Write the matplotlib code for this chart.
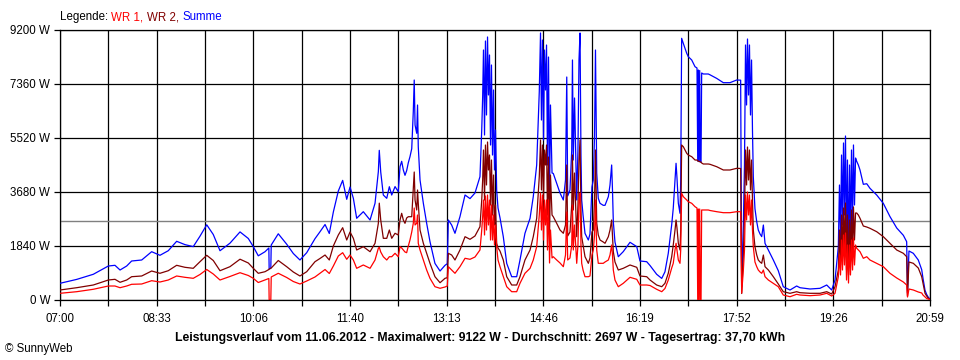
import numpy as np
import matplotlib
matplotlib.use('Agg')
import matplotlib.pyplot as plt

# time in minutes after 07:00
minutes = [0, 16.1, 32.1, 46.6, 53.0, 57.9, 64.3, 69.1, 78.8, 88.4,
           96.4, 104.4, 112.5, 120.5, 128.5, 135.0, 141.5, 147.8, 154.3, 163.9,
           173.6, 181.6, 186.4, 191.2, 197.7, 201.4, 201.7, 203.3, 203.7, 210.5,
           218.6, 225.0, 231.4, 237.9, 245.9, 250.7, 255.6, 259.7, 263.6, 268.4,
           272.6, 276.5, 279.7, 282.9, 286.1, 292.5, 299.0, 303.8, 307.0, 307.9,
           309.3, 311.8, 315.1, 317.6, 319.9, 323.1, 326.2, 327.9, 329.5, 331.1,
           332.7, 334.3, 335.9, 337.5, 339.2, 340.7, 341.6, 342.4, 344.0, 344.8,
           345.5, 347.2, 350.4, 353.6, 356.8, 361.6, 366.5, 371.3, 373.5, 374.5,
           377.7, 380.9, 385.7, 390.6, 395.4, 400.2, 405.0, 406.7, 407.6, 408.4,
           409.4, 410.3, 411.3, 412.3, 413.2, 414.2, 415.2, 416.1, 417.1, 418.1,
           419.0, 420.0, 421.1, 422.4, 424.3, 427.5, 430.8, 435.6, 440.4, 443.6,
           448.4, 453.3, 456.4, 459.7, 462.2, 463.4, 464.3, 465.3, 466.3, 467.2,
           468.2, 469.2, 470.1, 471.1, 472.1, 473.0, 474.5, 475.7, 479.0, 482.2,
           485.4, 487.5, 488.7, 489.6, 491.8, 493.5, 494.2, 495.0, 496.2, 498.3,
           499.5, 500.5, 501.5, 502.4, 503.1, 504.4, 506.3, 509.5, 511.1, 513.0,
           514.3, 515.5, 516.4, 517.6, 519.1, 520.8, 523.9, 525.6, 528.8, 530.4,
           532.0, 532.8, 533.6, 535.2, 538.4, 543.2, 549.7, 556.2, 559.3, 565.8,
           569.0, 575.4, 580.3, 583.4, 586.6, 589.9, 591.4, 593.1, 594.1, 595.0,
           596.3, 597.9, 598.6, 599.5, 601.1, 604.4, 605.9, 609.2, 612.4, 614.3,
           615.0, 615.6, 616.2, 616.9, 617.5, 618.2, 618.8, 620.4, 625.2, 626.8,
           633.3, 639.7, 646.1, 652.6, 656.4, 657.4, 659.0, 660.1, 661.1, 662.1,
           663.0, 664.0, 664.9, 665.9, 666.9, 667.8, 668.6, 670.2, 671.9, 673.4,
           675.1, 676.7, 678.3, 679.9, 683.1, 687.9, 692.7, 697.5, 704.0, 710.4,
           713.6, 723.3, 732.9, 739.4, 744.2, 747.4, 750.6, 751.7, 752.7, 753.7,
           754.6, 755.6, 756.5, 757.5, 758.5, 759.4, 760.4, 761.4, 762.3, 763.3,
           764.3, 765.2, 766.2, 767.2, 768.3, 769.9, 771.5, 774.7, 778.0, 781.1,
           787.6, 794.0, 800.4, 806.9, 810.1, 813.3, 816.5, 817.3, 818.7, 822.9,
           827.7, 831.0, 832.2, 834.2, 835.8, 837.4, 838.5]

wr1 = [228, 283, 365, 477, 477, 419, 477, 535, 545, 658,
       613, 681, 818, 773, 739, 869, 1039, 886, 681, 801,
       930, 835, 739, 596, 681, 733, 0, 0, 784, 910,
       767, 630, 545, 647, 784, 910, 1039, 903, 1158, 1499,
       1612, 1387, 1533, 1363, 1080, 1193, 1080, 1363, 1762, 1800,
       1636, 1475, 1363, 1475, 1475, 1591, 1475, 1816, 1772, 1704,
       1636, 1612, 1840, 2044, 2317, 2613, 3135, 2556, 2613, 2896,
       1932, 1704, 1363, 1022, 739, 453, 399, 443, 477, 1135,
       1022, 910, 1135, 1421, 1387, 1465, 1704, 2385, 2838, 3407,
       2215, 3544, 2385, 3578, 2556, 3407, 2044, 3237, 2044, 2896,
       1874, 2556, 1816, 1363, 1135, 794, 453, 283, 283, 569,
       910, 1080, 1363, 1816, 2896, 3646, 2385, 3578, 2044, 3407,
       2556, 3407, 1704, 3407, 1261, 2385, 1431, 1475, 1363, 1261,
       1135, 1533, 2998, 1363, 1431, 1874, 3237, 1704, 2556, 1250,
       1874, 3407, 3646, 1874, 1250, 1022, 794, 794, 818, 1533,
       1704, 2215, 3407, 1704, 1250, 1250, 1250, 1295, 1363, 1533,
       1874, 1533, 1022, 681, 453, 569, 773, 705, 511, 511,
       494, 365, 283, 392, 681, 1090, 1250, 1704, 1932, 1704,
       1363, 1250, 1704, 3636, 3520, 3407, 3350, 3295, 3179, 3135,
       0, 3101, 0, 3101, 0, 0, 3067, 3067, 3067, 3050,
       3009, 2975, 2975, 3009, 3009, 239, 1022, 1704, 3578, 2726,
       3680, 2896, 3578, 2556, 3407, 2385, 1816, 1295, 1135, 1022,
       954, 910, 1022, 794, 681, 569, 453, 170, 112, 194,
       170, 147, 170, 228, 136, 228, 794, 1533, 852, 2044,
       1022, 2215, 1193, 2283, 681, 1874, 579, 1874, 852, 2044,
       1022, 2113, 1193, 1874, 1762, 1704, 1646, 1421, 1475, 1363,
       1250, 1135, 910, 750, 681, 613, 511, 102, 375, 341,
       273, 239, 170, 102, 51, 34, 17]

wr2 = [341, 419, 511, 681, 705, 603, 681, 794, 818, 988,
       910, 998, 1182, 1114, 1080, 1305, 1523, 1346, 998, 1135,
       1390, 1261, 1080, 910, 964, 1039, 1056, 1080, 1090, 1346,
       1135, 954, 818, 964, 1305, 1414, 1533, 1363, 1840, 2215,
       2464, 2044, 2317, 2102, 1704, 1816, 1646, 1932, 2613, 3300,
       2726, 2102, 2102, 2385, 2102, 2273, 2215, 2726, 2954, 2726,
       2613, 2794, 2838, 2838, 2838, 3806, 4361, 3407, 3067, 3748,
       3295, 2385, 1932, 1591, 1250, 794, 589, 739, 760, 1591,
       1533, 1363, 1704, 2157, 2068, 2181, 2498, 3407, 4089, 5111,
       3407, 5281, 3919, 5384, 4430, 4941, 3237, 4770, 2896, 4259,
       2556, 3237, 1932, 1772, 1670, 1363, 794, 511, 511, 794,
       1363, 1704, 2157, 2784, 4201, 5452, 3748, 5281, 3407, 5111,
       4600, 5281, 2896, 4872, 2215, 4259, 2896, 2838, 2613, 2385,
       2273, 2556, 4600, 2181, 2317, 3237, 4941, 3067, 4327, 2157,
       3237, 4770, 5452, 3067, 2157, 1874, 1475, 1250, 1431, 2317,
       2385, 3407, 5111, 2624, 2215, 2044, 1976, 1932, 2157, 2385,
       2726, 2215, 1646, 1295, 1022, 1080, 1193, 1114, 818, 794,
       681, 511, 453, 569, 910, 1475, 1874, 2385, 2726, 2453,
       1932, 1704, 2385, 5281, 5224, 4998, 4941, 4883, 4770, 4770,
       4736, 4736, 4719, 4719, 4702, 4702, 4668, 4634, 4634, 4624,
       4542, 4430, 4430, 4487, 4481, 221, 1533, 2896, 5111, 3918,
       5213, 4089, 5111, 3748, 4770, 3407, 2385, 1816, 1533, 1363,
       1295, 1250, 1533, 1135, 1022, 794, 545, 283, 228, 283,
       249, 228, 228, 283, 204, 453, 1022, 2385, 1193, 2896,
       1533, 3135, 1704, 3305, 1022, 2896, 852, 2726, 1295, 3067,
       1431, 3169, 2044, 2964, 2964, 2896, 2784, 2521, 2487, 2443,
       2327, 2157, 1932, 1704, 1646, 1591, 1475, 136, 1295, 1250,
       1090, 794, 579, 228, 136, 58, 34]

# "Summe" is by definition the sum of both inverters
summe = (np.array(wr1) + np.array(wr2)).tolist()

x_labels = ['07:00', '08:33', '10:06', '11:40', '13:13', '14:46',
            '16:19', '17:52', '19:26', '20:59']
y_ticks = [0, 1840, 3680, 5520, 7360, 9200]
y_labels = ['0 W', '1840 W', '3680 W', '5520 W', '7360 W', '9200 W']
average = 2697
span_minutes = 839

title = ('Leistungsverlauf vom 11.06.2012 - Maximalwert: 9122 W - '
         'Durchschnitt: 2697 W - Tagesertrag: 37,70 kWh')

plt.rcParams['font.family'] = ['Liberation Sans', 'DejaVu Sans']

fig = plt.figure(figsize=(9.6, 3.6), dpi=100)
ax = fig.add_axes([60 / 960, 60 / 360, 870 / 960, 270 / 360])

ax.axhline(average, color='#808080', lw=1.0, zorder=1.5)
ax.plot(minutes, summe, color='#0000ff', lw=0.9, zorder=3)
ax.plot(minutes, wr2, color='#800000', lw=0.9, zorder=4)
ax.plot(minutes, wr1, color='#ff0000', lw=0.9, zorder=5)

ax.set_xlim(0, span_minutes)
ax.set_ylim(0, 9200)

major = [i * span_minutes / 9 for i in range(10)]
minor = [(i + 0.5) * span_minutes / 9 for i in range(9)]
ax.set_xticks(major)
ax.set_xticklabels(x_labels)
ax.set_xticks(minor, minor=True)
ax.set_yticks(y_ticks)
ax.set_yticklabels(y_labels)

ax.grid(True, which='both', color='black', lw=0.9)
ax.set_axisbelow(True)
for s in ax.spines.values():
    s.set_color('black')
    s.set_linewidth(0.9)

ax.tick_params(axis='both', which='both', direction='out', length=4,
               width=0.9, colors='black', labelsize=8.3)
ax.tick_params(axis='x', pad=5)
ax.tick_params(axis='y', pad=3)

fig.text(0.5, 1 - 338 / 360, title, ha='center', va='center',
         fontweight='bold', fontsize=8.8)
fig.text(5 / 960, 1 - 349 / 360, '\u00a9 SunnyWeb', ha='left', va='center',
         fontsize=8.3)

# legend line at top
fig.canvas.draw()
renderer = fig.canvas.get_renderer()
parts = [('Legende: ', 'black'), ('WR 1, ', '#ff0000'),
         ('WR 2, ', '#800000'), ('Summe', '#0000ff')]
xpix = 60
for txt, col in parts:
    t = fig.text(xpix / 960, 1 - 17 / 360, txt, ha='left', va='center',
                 fontsize=8.3, color=col)
    bb = t.get_window_extent(renderer=renderer)
    xpix += bb.width

fig.savefig('out.png', dpi=100)
